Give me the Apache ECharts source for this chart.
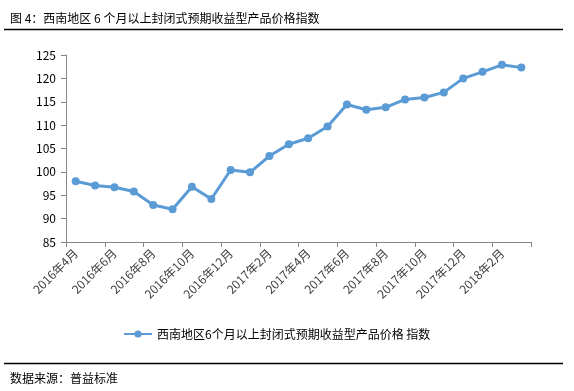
<!DOCTYPE html>
<html>
<head>
<meta charset="utf-8">
<script src="https://cdn.jsdelivr.net/npm/echarts@6/dist/echarts.min.js"></script>
<style>
html,body{margin:0;padding:0;background:#fff;}
#chart{width:574px;height:391px;}
</style>
</head>
<body>
<div id="chart"></div>
<script>
var categories = ['2016年4月','2016年5月','2016年6月','2016年7月','2016年8月','2016年9月','2016年10月','2016年11月','2016年12月',
  '2017年1月','2017年2月','2017年3月','2017年4月','2017年5月','2017年6月','2017年7月','2017年8月','2017年9月','2017年10月','2017年11月','2017年12月',
  '2018年1月','2018年2月','2018年3月'];
var seriesName = '西南地区6个月以上封闭式预期收益型产品价格 指数';
var values = [98.0, 97.1, 96.7, 95.8, 92.9, 92.0, 96.8, 94.2, 100.4, 99.9, 103.4, 105.9,
  107.2, 109.7, 114.4, 113.3, 113.8, 115.5, 115.9, 117.0, 120.0, 121.4, 122.9, 122.3];
var yTicks = {min: 85, max: 125, interval: 5};
var titleText = '图 4：西南地区 6 个月以上封闭式预期收益型产品价格指数';
var sourceText = '数据来源：普益标准';

var font = '"Noto Sans CJK SC", "Noto Sans", sans-serif';
var chart = echarts.init(document.getElementById('chart'), null, {renderer: 'canvas'});
chart.setOption({
  animation: false,
  backgroundColor: '#fff',
  title: [
    {text: titleText, left: 5, top: 7, textStyle: {fontSize: 12, fontWeight: 'normal', color: '#000', fontFamily: font}},
    {text: sourceText, left: 5, top: 367, textStyle: {fontSize: 12, fontWeight: 'normal', color: '#000', fontFamily: font}}
  ],
  graphic: [
    {type: 'line', shape: {x1: 4, y1: 29.5, x2: 563, y2: 29.5}, style: {stroke: '#000', lineWidth: 1.3}},
    {type: 'line', shape: {x1: 4, y1: 363.5, x2: 563, y2: 363.5}, style: {stroke: '#000', lineWidth: 1.3}}
  ],
  legend: {
    left: 118, top: 323,
    itemWidth: 28, itemHeight: 9, itemGap: 10,
    textStyle: {fontSize: 12, color: '#000', fontFamily: font},
    data: [seriesName]
  },
  grid: {left: 66, right: 43, top: 55, bottom: 149, containLabel: false},
  xAxis: {
    type: 'category',
    data: categories,
    boundaryGap: true,
    axisLine: {lineStyle: {color: '#868686', width: 1}},
    axisTick: {show: true, interval: 1, length: 5, lineStyle: {color: '#868686'}},
    axisLabel: {interval: 1, rotate: 45, fontSize: 12, color: '#404040', margin: 9, fontFamily: font}
  },
  yAxis: {
    type: 'value',
    min: yTicks.min, max: yTicks.max, interval: yTicks.interval,
    splitLine: {show: false},
    axisLine: {show: true, lineStyle: {color: '#868686', width: 1}},
    axisTick: {show: true, length: 5, lineStyle: {color: '#868686'}},
    axisLabel: {fontSize: 12, color: '#000', margin: 10, fontFamily: font}
  },
  series: [{
    name: seriesName,
    type: 'line',
    data: values,
    symbol: 'circle',
    symbolSize: 8,
    lineStyle: {color: '#5B9BD5', width: 3},
    itemStyle: {color: '#5B9BD5'}
  }]
});
</script>
</body>
</html>
